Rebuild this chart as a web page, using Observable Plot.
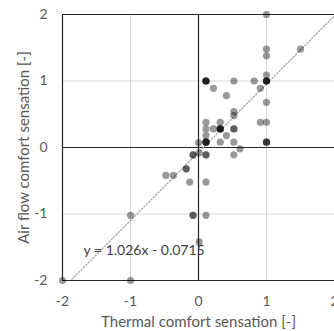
<!DOCTYPE html>
<html><head><meta charset="utf-8">
<script src="https://cdn.jsdelivr.net/npm/d3@7"></script>
<script src="https://cdn.jsdelivr.net/npm/@observablehq/plot@0.6"></script>
<style>html,body{margin:0;padding:0;background:#fff;overflow:hidden}</style>
</head><body><div id="chart"></div>
<script>
// Thermal comfort sensation (x), air flow comfort sensation (y), number of coincident responses
const thermal = [1, 1.5, 1, 1, 1, 1, 0.11, 0.22, 0.52, 0.82, 0.91, 0.41, 0.52, 0.52, 1, 0.91, 1, 0.11, 0.32, 0.11, 0.22, 0.32, 0.52, 0.11, 0.41, 0, 0.11, 0.32, 0.52, 1, 0.61, 0.01, -0.08, 0.11, 0.52, -0.18, -0.48, -0.37, -0.13, 0.11, -1, -0.08, 0.11, 0.01, -2, -1];
const airflow = [2, 1.48, 1.48, 1.38, 1.09, 1, 1, 0.89, 1, 1, 0.89, 0.78, 0.54, 0.48, 0.68, 0.38, 0.38, 0.38, 0.38, 0.28, 0.28, 0.28, 0.28, 0.18, 0.18, 0.07, 0.08, 0.08, 0.08, 0.08, -0.02, -0.08, -0.11, -0.11, -0.11, -0.32, -0.42, -0.42, -0.52, -0.52, -1.02, -1.02, -1.02, -1.42, -2, -2];
const counts = [1, 1, 1, 1, 1, 4, 4, 1, 1, 1, 1, 1, 1, 1, 1, 1, 1, 1, 1, 1, 1, 4, 2, 1, 1, 1, 4, 1, 1, 3, 1, 1, 2, 2, 1, 2, 1, 1, 1, 1, 1, 2, 1, 1, 1, 1];
const xTicks = [-2, -1, 0, 1, 2];
const yTicks = [-2, -1, 0, 1, 2];
const gridValues = [-1, 1];
const slope = 1.026, intercept = -0.0715;
const eqLabel = "y = 1.026x - 0.0715";
const xLabel = "Thermal comfort sensation [-]";
const yLabel = "Air flow comfort sensation [-]";

const points = thermal.flatMap((x, i) => d3.range(counts[i]).map(() => ({x, y: airflow[i]})));
const fitLine = xTicks.map(x => ({x, y: slope * x + intercept}));

const chart = Plot.plot({
  width: 334, height: 331,
  marginLeft: 62, marginRight: 0, marginTop: 14, marginBottom: 51,
  style: {fontFamily: "Lato", fontSize: "14px", color: "#595959", background: "#fff"},
  x: {domain: [-2, 2]},
  y: {domain: [-2, 2]},
  marks: [
    Plot.ruleX(gridValues, {stroke: "#d9d9d9", strokeWidth: 1}),
    Plot.ruleY(gridValues, {stroke: "#d9d9d9", strokeWidth: 1}),
    Plot.ruleX([xTicks[0], 0], {stroke: "#262626", strokeWidth: 1.2}),
    Plot.ruleY([yTicks[0], 0, yTicks[4]], {stroke: "#262626", strokeWidth: 1.2}),
    Plot.line(fitLine, {x: "x", y: "y", stroke: "#a6a6a6", strokeWidth: 1.3, strokeDasharray: "1.3,2", clip: true}),
    Plot.dot(points, {x: "x", y: "y", r: 3.6, fill: "black", fillOpacity: 0.4, stroke: null}),
    Plot.axisX({ticks: xTicks, tickSize: 0, tickPadding: 16, tickFormat: d => String(d), label: null, fill: "#595959"}),
    Plot.axisY({ticks: yTicks, tickSize: 0, tickPadding: 15, tickFormat: d => String(d), label: null, fill: "#595959"}),
    Plot.axisX({ticks: [], tickSize: 0, label: xLabel, labelAnchor: "center", labelOffset: 46, labelArrow: "none", fill: "#595959", fontSize: 15}),
    Plot.axisY({ticks: [], tickSize: 0, label: yLabel, labelAnchor: "center", labelOffset: 44, labelArrow: "none", fill: "#595959", fontSize: 15}),
    Plot.text([eqLabel], {frameAnchor: "bottom-left", dx: 21, dy: -30, textAnchor: "start", lineAnchor: "middle", fill: "#404040", fontSize: 14})
  ]
});
document.getElementById("chart").appendChild(chart);
</script>
</body></html>
